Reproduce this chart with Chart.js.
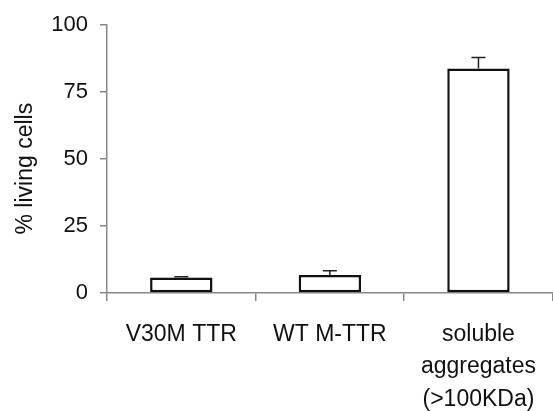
<!DOCTYPE html>
<html>
<head>
<meta charset="utf-8">
<script src="https://cdn.jsdelivr.net/npm/chart.js@4"></script>
<style>
  html, body { margin: 0; padding: 0; background: #fff; }
  #wrap { width: 553px; height: 411px; }
</style>
</head>
<body>
<div id="wrap"><canvas id="chart"></canvas></div>
<script>
const categories = ['V30M TTR', 'WT M-TTR', ['soluble', 'aggregates', '(>100KDa)']];
const livingCells = [5.8, 6.7, 83.8];
const livingCellsErr = [0.3, 1.6, 4.1];
const yTicks = [0, 25, 50, 75, 100];

// upward-only error bars, drawn through the y scale
const errorBars = {
    id: 'errorBars',
    afterDatasetsDraw(chart) {
        const ctx = chart.ctx;
        const y = chart.scales.y;
        const meta = chart.getDatasetMeta(0);
        ctx.save();
        ctx.strokeStyle = '#222';
        ctx.lineWidth = 1.5;
        meta.data.forEach((bar, i) => {
            const top = y.getPixelForValue(livingCells[i] + livingCellsErr[i]);
            const base = y.getPixelForValue(livingCells[i]);
            ctx.beginPath();
            ctx.moveTo(bar.x, base);
            ctx.lineTo(bar.x, top);
            ctx.moveTo(bar.x - 7, top);
            ctx.lineTo(bar.x + 7, top);
            ctx.stroke();
        });
        ctx.restore();
    }
};

new Chart(document.getElementById('chart').getContext('2d'), {
    type: 'bar',
    data: {
        labels: categories,
        datasets: [{
            data: livingCells,
            backgroundColor: '#fff',
            borderColor: '#111',
            borderWidth: 2.5,
            borderSkipped: false,
            categoryPercentage: 1,
            barPercentage: 0.42
        }]
    },
    options: {
        responsive: true,
        maintainAspectRatio: false,
        animation: false,
        layout: { padding: { top: 12, right: 0, bottom: 0, left: 0 } },
        plugins: {
            legend: { display: false },
            tooltip: { enabled: false }
        },
        scales: {
            x: {
                offset: true,
                grid: {
                    offset: true,
                    drawOnChartArea: false,
                    drawTicks: true,
                    tickLength: 8,
                    color: '#888',
                    lineWidth: 1.5
                },
                border: { color: '#888', width: 1.5 },
                ticks: {
                    color: '#111',
                    padding: 17,
                    maxRotation: 0,
                    autoSkip: false,
                    font: { family: '"Liberation Sans", Arial, sans-serif', size: 23, lineHeight: 1.42 }
                },
                afterFit(scale) { scale.height = 118; }
            },
            y: {
                min: 0,
                max: 100,
                afterBuildTicks(scale) { scale.ticks = yTicks.map(v => ({ value: v })); },
                grid: {
                    drawOnChartArea: false,
                    drawTicks: true,
                    tickLength: 7,
                    color: '#888',
                    lineWidth: 1.5
                },
                border: { color: '#888', width: 1.5 },
                ticks: {
                    color: '#111',
                    padding: 12,
                    font: { family: '"Liberation Sans", Arial, sans-serif', size: 22 }
                },
                title: {
                    display: true,
                    text: '% living cells   ',
                    color: '#111',
                    padding: { top: 12, bottom: 0 },
                    font: { family: '"Liberation Sans", Arial, sans-serif', size: 23 }
                },
                afterFit(scale) { scale.width = 107; }
            }
        }
    },
    plugins: [errorBars]
});
</script>
</body>
</html>
